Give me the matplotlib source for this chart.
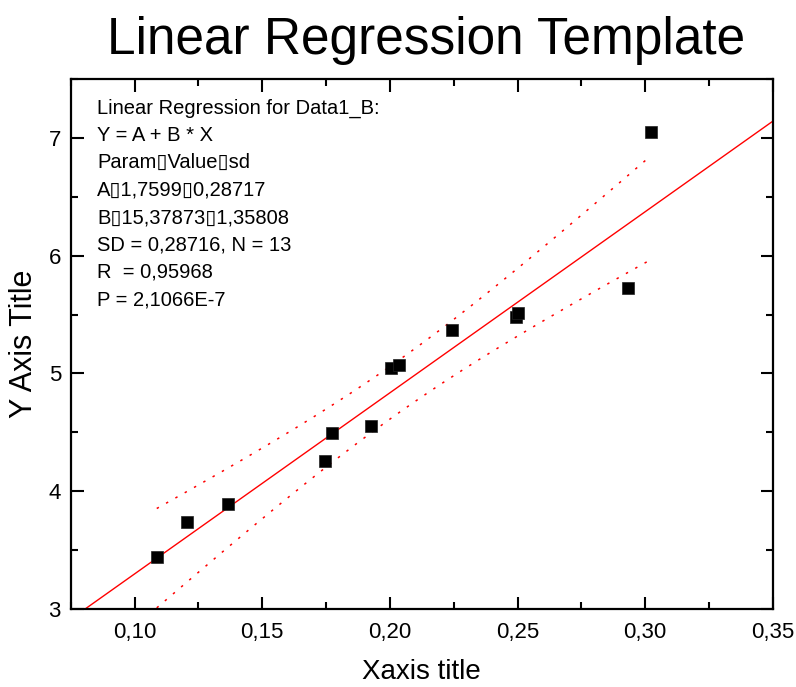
import numpy as np
import matplotlib
matplotlib.use("Agg")
import matplotlib.pyplot as plt
from matplotlib.ticker import MultipleLocator, FuncFormatter

plt.rcParams['font.family'] = ['Liberation Sans', 'DejaVu Sans']

# data
x_data = [0.1087, 0.1207, 0.1366, 0.1745, 0.1775, 0.1925, 0.2003,
          0.2034, 0.2244, 0.2492, 0.2503, 0.2931, 0.3021]
y_data = [3.438, 3.738, 3.890, 4.261, 4.491, 4.553, 5.048,
          5.068, 5.373, 5.478, 5.514, 5.722, 7.046]

# fit results shown in the chart
A = 1.7599
B = 15.37873
SD = 0.28716
band_t = 2.8  # band width factor

info_lines = [
    "Linear Regression for Data1_B:",
    "Y = A + B * X",
    "Param\u25afValue\u25afsd",
    "A\u25af1,7599\u25af0,28717",
    "B\u25af15,37873\u25af1,35808",
    "SD = 0,28716, N = 13",
    "R  = 0,95968",
    "P = 2,1066E-7",
]

x = np.array(x_data)
y = np.array(y_data)

fig = plt.figure(figsize=(7.96, 6.87), dpi=100)
ax = fig.add_axes([0.0888, 0.1135, 0.8822, 0.7715])

xlim = (0.075, 0.35)
ylim = (3.0, 7.5)

# regression line over full x range
xl = np.linspace(xlim[0], xlim[1], 200)
ax.plot(xl, A + B * xl, color='red', lw=1.0, zorder=2)

# confidence bands over data range
xm = x.mean()
sxx = ((x - xm) ** 2).sum()
xb = np.linspace(x.min(), x.max(), 200)
half = band_t * SD * np.sqrt(1 / len(x) + (xb - xm) ** 2 / sxx)
ax.plot(xb, A + B * xb + half, color='red', lw=1.1, ls=(0, (1.6, 5.4)), zorder=2)
ax.plot(xb, A + B * xb - half, color='red', lw=1.1, ls=(0, (1.6, 5.4)), zorder=2)

ax.plot(x, y, 's', color='black', ms=8, mec='#222222', mew=0.5, zorder=3)

ax.set_xlim(*xlim)
ax.set_ylim(*ylim)

ax.xaxis.set_major_locator(MultipleLocator(0.05))
ax.xaxis.set_minor_locator(MultipleLocator(0.025))
ax.yaxis.set_major_locator(MultipleLocator(1))
ax.yaxis.set_minor_locator(MultipleLocator(0.5))
ax.xaxis.set_major_formatter(FuncFormatter(lambda v, p: ("%.2f" % v).replace('.', ',')))
ax.yaxis.set_major_formatter(FuncFormatter(lambda v, p: "%d" % round(v)))

ax.tick_params(which='both', direction='in', top=True, right=True, width=1.5)
ax.tick_params(which='major', length=9, labelsize=16)
ax.tick_params(which='minor', length=5)
ax.tick_params(axis='x', which='major', pad=9)
ax.tick_params(axis='y', which='major', pad=7)
for s in ax.spines.values():
    s.set_linewidth(1.6)

ax.set_xlabel("Xaxis title", fontsize=20, labelpad=12)
ax.set_ylabel("Y Axis Title", fontsize=22, labelpad=7)

fig.text(0.535, 0.921, "Linear Regression Template", fontsize=37,
         ha='center', va='baseline')

for i, line in enumerate(info_lines):
    ax.text(0.038, 0.935 - i * 0.0517, line, transform=ax.transAxes,
            fontsize=14.5, va='baseline', ha='left')

fig.savefig("out.png", dpi=100)
